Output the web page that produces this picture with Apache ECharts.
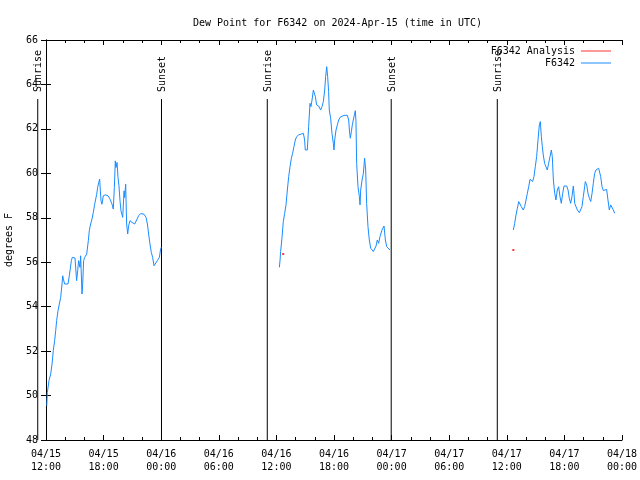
<!DOCTYPE html>
<html><head><meta charset="utf-8">
<script src="https://cdn.jsdelivr.net/npm/echarts@6/dist/echarts.min.js"></script>
<style>html,body{margin:0;padding:0;background:#fff}#c{width:640px;height:480px}</style>
</head><body><div id="c"></div>
<script>
// Hours after 2024-04-15 12:00 UTC
const seg1Hours = [0.08,0.14,0.31,0.49,0.63,0.76,0.90,1.01,1.11,1.25,1.39,1.53,1.67,1.74,1.81,1.94,2.29,2.43,2.64,2.74,3.02,3.19,3.30,3.40,3.54,3.61,3.75,3.82,3.92,4.03,4.24,4.41,4.51,4.65,4.79,4.93,5.07,5.28,5.38,5.49,5.59,5.66,5.73,5.83,5.97,6.18,6.46,6.67,6.88,7.01,7.12,7.22,7.29,7.40,7.50,7.60,7.71,7.81,7.99,8.13,8.19,8.30,8.40,8.51,8.61,8.75,8.96,9.24,9.44,9.65,9.86,10.21,10.42,10.56,10.69,10.83,10.97,11.11,11.25,11.39,11.60,11.81,11.94,12.01];
const seg1Dew = [49.54,50.14,50.67,50.97,51.42,52.02,52.47,52.92,53.37,53.82,54.12,54.42,55.02,55.39,55.24,55.02,55.02,55.39,56.07,56.22,56.19,55.17,55.62,56.07,55.77,56.29,54.57,55.02,56.07,56.22,56.37,56.97,57.42,57.72,57.94,58.24,58.61,59.06,59.36,59.59,59.74,59.21,58.76,58.61,58.99,59.03,58.99,58.84,58.61,58.39,59.36,60.56,60.26,60.49,59.81,59.44,58.76,58.31,58.02,59.21,58.91,59.51,57.72,57.27,57.64,57.87,57.79,57.72,57.72,58.09,58.19,58.16,58.02,57.72,57.27,56.82,56.44,56.22,55.84,55.92,56.07,56.22,56.59,56.67];
const seg2Hours = [24.31,24.38,24.44,24.58,24.72,24.86,25.00,25.14,25.28,25.42,25.56,25.69,25.83,25.97,26.11,26.32,26.60,26.81,26.94,27.01,27.22,27.36,27.50,27.60,27.71,27.85,27.95,28.06,28.19,28.40,28.61,28.75,28.89,29.03,29.13,29.24,29.34,29.44,29.51,29.65,29.79,29.93,30.00,30.07,30.21,30.35,30.49,30.63,30.76,31.04,31.39,31.53,31.60,31.70,31.81,31.91,32.01,32.12,32.22,32.29,32.36,32.50,32.64,32.71,32.78,32.92,33.06,33.19,33.30,33.40,33.54,33.68,33.82,33.96,34.10,34.24,34.38,34.51,34.65,34.79,35.00,35.21,35.35,35.49,35.69,35.83];
const seg2Dew = [55.77,56.10,56.48,57.08,57.83,58.20,58.58,59.25,59.85,60.30,60.68,60.90,61.20,61.50,61.65,61.73,61.77,61.80,61.50,61.05,61.05,62.10,63.15,63.00,63.30,63.75,63.83,63.45,63.08,63.03,62.85,63.00,63.23,63.75,64.35,64.80,64.35,63.68,62.85,62.48,61.80,61.35,61.05,61.50,61.95,62.18,62.40,62.52,62.61,62.61,62.61,62.40,61.95,61.58,61.88,62.18,62.40,62.63,62.82,62.33,60.45,59.40,58.95,58.58,59.25,59.70,60.00,60.68,60.15,58.65,57.60,57.00,56.63,56.58,56.48,56.40,56.73,57.00,56.85,57.15,57.45,57.63,57.00,56.70,56.63,56.55];
const seg3Hours = [48.68,48.82,48.96,49.10,49.24,49.38,49.51,49.72,49.86,50.00,50.14,50.28,50.42,50.56,50.69,50.83,50.97,51.11,51.25,51.39,51.49,51.60,51.70,51.80,51.94,52.08,52.22,52.36,52.50,52.64,52.74,52.85,52.99,53.12,53.26,53.40,53.54,53.68,53.82,53.96,54.10,54.24,54.38,54.51,54.65,54.79,54.93,55.00,55.07,55.21,55.35,55.56,55.69,55.83,55.97,56.11,56.18,56.32,56.46,56.60,56.74,56.88,57.01,57.15,57.29,57.43,57.57,57.64,57.78,57.92,58.06,58.26,58.40,58.54,58.68,58.82,58.96,59.10,59.24];
const seg3Dew = [57.45,57.75,58.13,58.43,58.73,58.65,58.50,58.35,58.50,58.80,59.10,59.40,59.73,59.70,59.63,59.85,60.30,60.75,61.50,62.18,62.33,61.65,61.20,60.83,60.45,60.30,60.15,60.45,60.75,61.05,60.75,59.70,59.10,58.80,59.25,59.40,58.95,58.65,59.10,59.43,59.48,59.43,59.25,58.88,58.65,58.95,59.43,59.10,58.65,58.50,58.35,58.23,58.20,58.50,58.95,59.40,59.63,59.48,59.10,58.88,58.73,59.10,59.55,60.00,60.15,60.08,60.23,60.30,59.85,59.40,59.22,59.25,59.28,58.80,58.35,58.58,58.50,58.35,58.20];
const analysisHours = [24.71, 48.68];
const analysisDew = [56.37, 56.55];
const sunHours = [-0.86, 12.03, 23.05, 35.96, 47.01];
const sunLabels = ['Sunrise', 'Sunset', 'Sunrise', 'Sunset', 'Sunrise'];
const baseTime = Date.UTC(2024, 3, 15, 12, 0);

const FONT = 'DejaVu Sans Mono';
const pad = n => String(n).padStart(2, '0');
function tickLabel(v) {
  const d = new Date(baseTime + v * 3600000);
  return pad(d.getUTCMonth() + 1) + '/' + pad(d.getUTCDate()) + '\n' + pad(d.getUTCHours()) + ':' + pad(d.getUTCMinutes());
}

const lineData = [];
[[seg1Hours, seg1Dew], [seg2Hours, seg2Dew], [seg3Hours, seg3Dew]].forEach(([h, v], i) => {
  if (i > 0) lineData.push([h[0] - 0.5, null]);
  h.forEach((t, j) => lineData.push([t, v[j]]));
});
const analysisData = analysisHours.map((t, i) => [t, analysisDew[i]]);
const sunData = sunHours.map((t, i) => [t, sunLabels[i]]);

const axisCommon = {
  axisLine: { show: true, lineStyle: { color: '#000', width: 1 } },
  splitLine: { show: false }
};

const chart = echarts.init(document.getElementById('c'), null, { renderer: 'canvas' });
chart.setOption({
  animation: false,
  backgroundColor: '#fff',
  title: {
    text: 'Dew Point for F6342 on 2024-Apr-15 (time in UTC)',
    left: 188, top: 13,
    textStyle: { fontFamily: FONT, fontSize: 10, fontWeight: 'normal', color: '#000' }
  },
  legend: {
    orient: 'vertical', right: 24, top: 41, align: 'right',
    itemWidth: 30, itemHeight: 1, itemGap: 2,
    textStyle: { fontFamily: FONT, fontSize: 10, color: '#000', padding: [0, 1, 0, 0] },
    data: [
      { name: 'F6342 Analysis', icon: 'rect', itemStyle: { color: '#ff0000' } },
      { name: 'F6342', icon: 'rect', itemStyle: { color: '#1a8cff' } }
    ]
  },
  grid: { left: 46, right: 18, top: 40, bottom: 40, show: false, containLabel: false, outerBoundsMode: 'none' },
  xAxis: [
    Object.assign({
      type: 'value', min: 0, max: 60, interval: 6, position: 'bottom',
      axisTick: { show: true, inside: true, length: 5, lineStyle: { color: '#000' } },
      minorTick: { show: true, splitNumber: 3, length: 3, lineStyle: { color: '#000' } },
      axisLabel: { formatter: tickLabel, fontFamily: FONT, fontSize: 10, color: '#000', margin: 8, lineHeight: 13 }
    }, axisCommon),
    Object.assign({
      type: 'value', min: 0, max: 60, interval: 6, position: 'top',
      axisTick: { show: true, inside: true, length: 5, lineStyle: { color: '#000' } },
      minorTick: { show: true, splitNumber: 3, length: 3, lineStyle: { color: '#000' } },
      axisLabel: { show: false }
    }, axisCommon)
  ],
  yAxis: [
    Object.assign({
      type: 'value', min: 48, max: 66, interval: 2, position: 'left',
      name: 'degrees F', nameLocation: 'middle', nameGap: 32,
      nameTextStyle: { fontFamily: FONT, fontSize: 10, color: '#000' },
      axisTick: { show: true, inside: true, length: 5, lineStyle: { color: '#000' } },
      axisLabel: { fontFamily: FONT, fontSize: 10, color: '#000', margin: 8 }
    }, axisCommon),
    Object.assign({
      type: 'value', min: 48, max: 66, interval: 2, position: 'right',
      axisTick: { show: true, inside: true, length: 5, lineStyle: { color: '#000' } },
      axisLabel: { show: false }
    }, axisCommon)
  ],
  series: [
    {
      name: 'F6342 Analysis', type: 'scatter', symbol: 'rect', symbolSize: 2,
      itemStyle: { color: '#ff0000' }, data: analysisData, z: 3
    },
    {
      name: 'F6342', type: 'line', data: lineData, showSymbol: false, connectNulls: false,
      lineStyle: { color: '#1a8cff', width: 1 }, itemStyle: { color: '#1a8cff' }, z: 3
    },
    {
      name: 'sun', type: 'custom', data: sunData, clip: false, silent: true, z: 2,
      renderItem: function (params, api) {
        const t = api.value(0);
        const top = api.coord([t, 66]);
        const bot = api.coord([t, 48]);
        return {
          type: 'group',
          children: [
            { type: 'line', shape: { x1: top[0], y1: top[1] + 59, x2: bot[0], y2: bot[1] },
              style: { stroke: '#000', lineWidth: 1 } },
            { type: 'text', x: top[0] + 1, y: top[1] + 52, rotation: Math.PI / 2,
              style: { text: sunData[params.dataIndex][1], fill: '#000', font: '10px "' + FONT + '"',
                       align: 'left', verticalAlign: 'middle' } }
          ]
        };
      }
    }
  ]
});
</script>
</body></html>
